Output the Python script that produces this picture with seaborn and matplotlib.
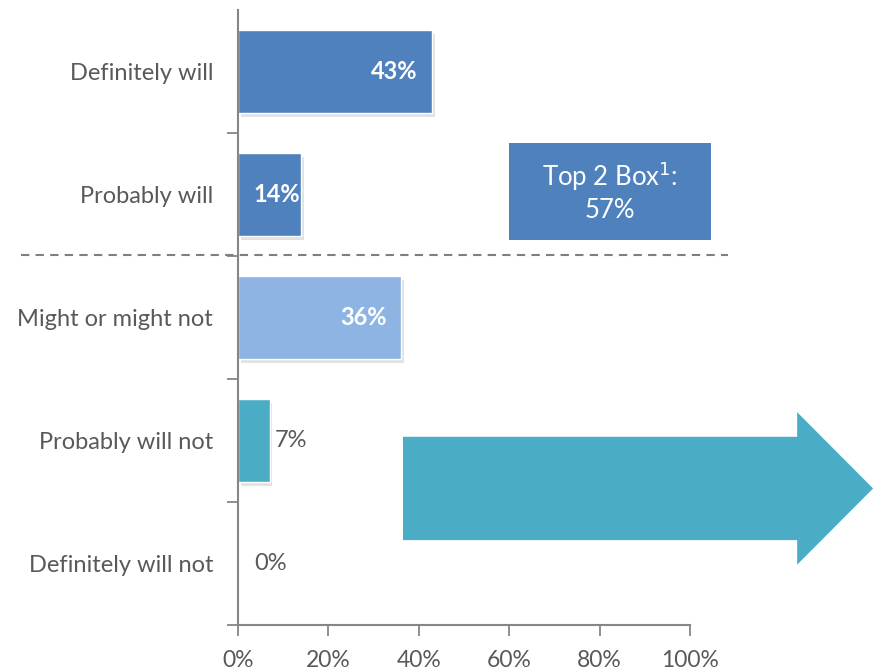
import pandas as pd
import seaborn as sns
import matplotlib.pyplot as plt
import matplotlib.patheffects as pe
from matplotlib.patches import Rectangle, FancyArrow

# data
categories = ["Definitely will", "Probably will", "Might or might not",
              "Probably will not", "Definitely will not"]
values = [43, 14, 36, 7, 0]
bar_colors = ["#4F81BD", "#4F81BD", "#8DB4E2", "#4BACC6", "#4BACC6"]
top2_label = "Top 2 Box$^1$:\n57%"
x_ticks = [0, 20, 40, 60, 80, 100]

df = pd.DataFrame({"answer": categories, "pct": values})

sns.set_style("white")
plt.rcParams["font.family"] = ["Lato", "DejaVu Sans"]
text_grey = "#595959"
axis_grey = "#868686"

fig = plt.figure(figsize=(8.77, 6.71), dpi=100)
ax = fig.add_axes([0.2714, 0.0686, 0.5154, 0.9165])

sns.barplot(data=df, y="answer", x="pct", hue="answer", palette=bar_colors,
            orient="h", width=0.67, legend=False, ax=ax, saturation=1)

for bar in ax.patches:
    bar.set_path_effects([pe.SimplePatchShadow(offset=(2, -3), shadow_rgbFace="#8f8f8f", alpha=0.25),
                          pe.Normal()])

# value labels: white inside the bar if it is wide enough, grey outside otherwise
for i, v in enumerate(values):
    if v >= 10:
        x = v - 3.2 if v > 20 else v - 0.2
        ax.text(x, i, f"{v}%", ha="right", va="center", color="white",
                fontsize=17, fontweight="bold")
    else:
        ax.text(max(v + 1.2, 3.5), i, f"{v}%", ha="left", va="center",
                color=text_grey, fontsize=17)

ax.set_xlim(0, 100)
ax.set_ylim(4.5, -0.5)
ax.set_xticks(x_ticks)
ax.set_xticklabels([f"{t}%" for t in x_ticks], fontsize=16.5, color=text_grey)
ax.set_xlabel("")
ax.set_ylabel("")
ax.tick_params(axis="y", left=True, length=0, labelsize=17, labelcolor=text_grey, pad=18)
ax.set_yticks([0.5, 1.5, 2.5, 3.5, 4.5], minor=True)
ax.tick_params(axis="y", which="minor", left=True, length=8, color=axis_grey, width=1.3, direction="out")
ax.tick_params(axis="x", bottom=True, length=8, color=axis_grey, width=1.3, direction="out", pad=10)

for side in ["top", "right"]:
    ax.spines[side].set_visible(False)
for side in ["left", "bottom"]:
    ax.spines[side].set_color(axis_grey)
    ax.spines[side].set_linewidth(1.5)

# dashed separator between top 2 box and rest
ax.plot([-48, 108.5], [1.49, 1.49], ls=(0, (4, 3)), color="#7f7f7f", lw=1.5, clip_on=False)

# top 2 box callout
ax.add_patch(Rectangle((60, 0.58), 44.7, 0.79, facecolor="#4F81BD", edgecolor="none", clip_on=False))
ax.text(82.3, 0.975, top2_label, ha="center", va="center", color="white", fontsize=18.5,
        linespacing=1.25)

# big arrow
ax.add_patch(FancyArrow(36.5, 3.39, 104, 0, width=0.84, head_width=1.24, head_length=16.8,
                        length_includes_head=True, facecolor="#4BACC6", edgecolor="none",
                        clip_on=False))

fig.savefig("out.png", dpi=100)
